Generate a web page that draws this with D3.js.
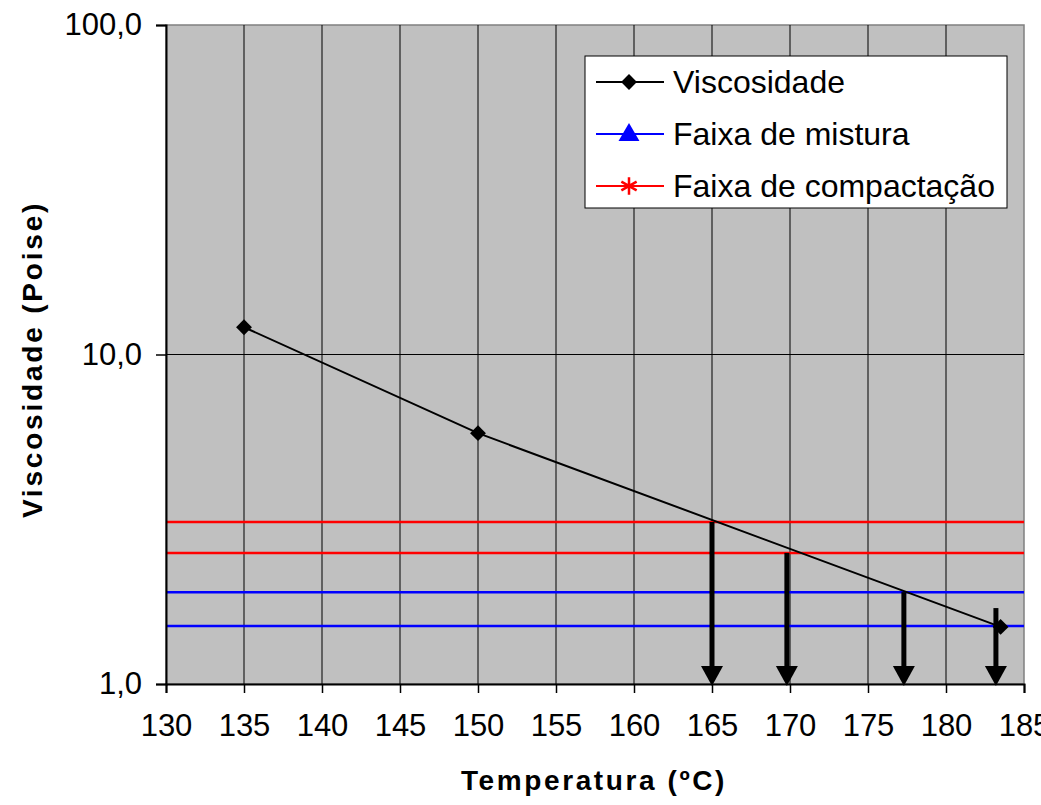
<!DOCTYPE html>
<html>
<head>
<meta charset="utf-8">
<script src="https://cdn.jsdelivr.net/npm/d3@7"></script>
<style>
  body { margin: 0; background: #fff; }
  svg { display: block; font-family: "Liberation Sans", Arial, sans-serif; }
</style>
</head>
<body>
<div id="chart"></div>
<script>
// ----- dados
const temperaturas = [135, 150, 183.5];
const viscosidades = [12.1, 5.77, 1.49];
const faixaMistura = [1.5, 1.9];
const faixaCompactacao = [2.5, 3.1];
// setas: temperatura e viscosidade de onde partem
const setasTemp = [165, 169.8, 177.3, 183.2];
const setasVisc = [3.1, 2.5, 1.9, 1.7];
const xTicks = [130, 135, 140, 145, 150, 155, 160, 165, 170, 175, 180, 185];
const yTicks = [1, 10, 100];
const legendaNomes = ["Viscosidade", "Faixa de mistura", "Faixa de compactação"];
const legendaCores = ["#000000", "#0000FF", "#FF0000"];

var width = 1041, height = 805;
var margin = { top: 25, right: 17, bottom: 121, left: 166 };
var w = width - margin.left - margin.right;
var h = height - margin.top - margin.bottom;

var svg = d3.select("#chart").append("svg")
  .attr("width", width)
  .attr("height", height);

var x = d3.scaleLinear().domain([130, 185]).range([margin.left, margin.left + w]);
var y = d3.scaleLog().domain([1, 100]).range([margin.top + h, margin.top]);

var fmt = d3.formatLocale({ decimal: ",", thousands: ".", grouping: [3], currency: ["", ""] }).format(".1f");

// ----- area do grafico
svg.append("rect")
  .attr("x", margin.left).attr("y", margin.top)
  .attr("width", w).attr("height", h)
  .attr("fill", "#C0C0C0")
  .attr("stroke", "#808080")
  .attr("stroke-width", 1.5);

// grades verticais
svg.append("g")
  .selectAll("line")
  .data(xTicks.slice(1, -1))
  .enter().append("line")
  .attr("x1", d => x(d)).attr("x2", d => x(d))
  .attr("y1", margin.top).attr("y2", margin.top + h)
  .attr("stroke", "#000").attr("stroke-width", 1);

// grades horizontais (so nas decadas)
svg.append("g")
  .selectAll("line")
  .data(yTicks.slice(1, -1))
  .enter().append("line")
  .attr("x1", margin.left).attr("x2", margin.left + w)
  .attr("y1", d => y(d)).attr("y2", d => y(d))
  .attr("stroke", "#000").attr("stroke-width", 1);

// ----- faixas
svg.append("g")
  .selectAll("line")
  .data(faixaCompactacao)
  .enter().append("line")
  .attr("x1", margin.left).attr("x2", margin.left + w)
  .attr("y1", d => y(d)).attr("y2", d => y(d))
  .attr("stroke", "#FF0000").attr("stroke-width", 2.5);

svg.append("g")
  .selectAll("line")
  .data(faixaMistura)
  .enter().append("line")
  .attr("x1", margin.left).attr("x2", margin.left + w)
  .attr("y1", d => y(d)).attr("y2", d => y(d))
  .attr("stroke", "#0000FF").attr("stroke-width", 2.5);

// ----- eixos
var xAxis = d3.axisBottom(x).tickValues(xTicks).tickSize(9).tickPadding(21).tickFormat(d3.format("d"));
var gx = svg.append("g")
  .attr("transform", `translate(0,${margin.top + h})`)
  .call(xAxis);
gx.select(".domain").attr("stroke", "#000").attr("stroke-width", 2);
gx.selectAll(".tick line").attr("stroke", "#000").attr("stroke-width", 1.5);
gx.selectAll("text").attr("font-size", 31).attr("fill", "#000")
  .attr("font-family", "'Liberation Sans', Arial, sans-serif");

var yAxis = d3.axisLeft(y).tickValues(yTicks).tickSize(10).tickPadding(14).tickFormat(fmt);
var gy = svg.append("g")
  .attr("transform", `translate(${margin.left},0)`)
  .call(yAxis);
gy.select(".domain").attr("stroke", "#000").attr("stroke-width", 2);
gy.selectAll(".tick line").attr("stroke", "#000").attr("stroke-width", 1.5);
gy.selectAll("text").attr("font-size", 31).attr("fill", "#000")
  .attr("font-family", "'Liberation Sans', Arial, sans-serif");

// ----- curva de viscosidade
var pontos = temperaturas.map((t, i) => ({ t: t, v: viscosidades[i] }));
var linha = d3.line().x(d => x(d.t)).y(d => y(d.v));
svg.append("path")
  .datum(pontos)
  .attr("d", linha)
  .attr("fill", "none")
  .attr("stroke", "#000")
  .attr("stroke-width", 2);

// ----- setas
var setas = setasTemp.map((t, i) => ({ t: t, v: setasVisc[i] }));
var gSetas = svg.append("g");
gSetas.selectAll("line")
  .data(setas)
  .enter().append("line")
  .attr("x1", d => x(d.t)).attr("x2", d => x(d.t))
  .attr("y1", d => y(d.v)).attr("y2", y(1) - 12)
  .attr("stroke", "#000").attr("stroke-width", 5);
gSetas.selectAll("path")
  .data(setas)
  .enter().append("path")
  .attr("d", d => `M${x(d.t) - 11},${y(1) - 18} L${x(d.t) + 11},${y(1) - 18} L${x(d.t)},${y(1) + 2} Z`)
  .attr("fill", "#000");

// marcadores losango
svg.append("g")
  .selectAll("path")
  .data(pontos)
  .enter().append("path")
  .attr("transform", d => `translate(${x(d.t)},${y(d.v)})`)
  .attr("d", d3.symbol().type(d3.symbolDiamond2).size(160))
  .attr("fill", "#000");

// ----- titulos dos eixos
svg.append("text")
  .attr("x", 594).attr("y", 790)
  .attr("text-anchor", "middle")
  .attr("font-size", 28).attr("font-weight", "bold")
  .attr("letter-spacing", 2.6)
  .text("Temperatura (ºC)");

svg.append("text")
  .attr("transform", `translate(42,${margin.top + h / 2 + 5}) rotate(-90)`)
  .attr("text-anchor", "middle")
  .attr("font-size", 28).attr("font-weight", "bold")
  .attr("letter-spacing", 2.8)
  .text("Viscosidade (Poise)");

// ----- legenda
var leg = svg.append("g").attr("transform", "translate(585,56)");
leg.append("rect")
  .attr("width", 422).attr("height", 152)
  .attr("fill", "#fff").attr("stroke", "#000").attr("stroke-width", 1);

var itens = leg.selectAll(".item")
  .data(legendaNomes)
  .enter().append("g")
  .attr("class", "item")
  .attr("transform", (d, i) => `translate(0,${26 + i * 52})`);

itens.append("line")
  .attr("x1", 11).attr("x2", 79)
  .attr("stroke", (d, i) => legendaCores[i]).attr("stroke-width", 2);

itens.append("text")
  .attr("x", 88).attr("y", 11)
  .attr("font-size", 32)
  .attr("fill", "#000")
  .text(d => d);

// simbolos da legenda
itens.filter((d, i) => i === 0).append("path")
  .attr("transform", "translate(44,0)")
  .attr("d", d3.symbol().type(d3.symbolDiamond2).size(160))
  .attr("fill", "#000");
itens.filter((d, i) => i === 1).append("path")
  .attr("transform", "translate(44,1)")
  .attr("d", d3.symbol().type(d3.symbolTriangle).size(190))
  .attr("fill", "#0000FF");
itens.filter((d, i) => i === 2).append("path")
  .attr("transform", "translate(44,0)")
  .attr("d", d3.symbol().type(d3.symbolAsterisk).size(220))
  .attr("fill", "none")
  .attr("stroke", "#FF0000").attr("stroke-width", 2.5);
</script>
</body>
</html>
